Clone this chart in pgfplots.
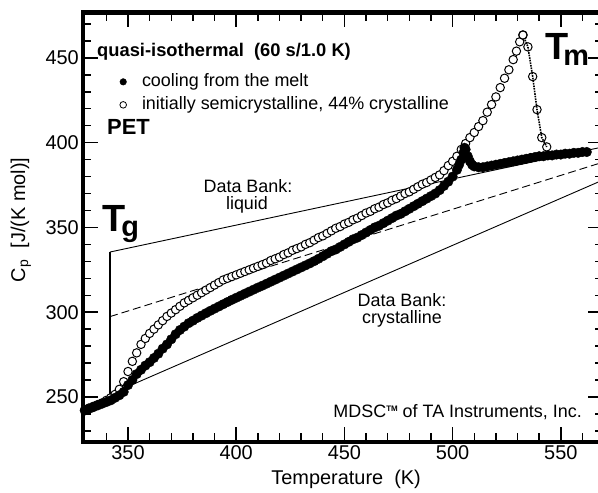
\documentclass[border=0pt]{standalone}
\usepackage{fontspec}
\setmainfont{Liberation Sans}
\usepackage{pgfplots}
\pgfplotsset{compat=1.18}

\pgfplotstableread{
T v
330 242
332 243
334 244
336 245
338 246
340 247
342 248
344 249.5
346 251
348 253
350 257
352 260
354 263.5
356 266
358 268.5
360 270.5
362 273
364 275.5
366 278.5
368 281
370 284
372 287
374 289.5
376 291.5
378 293.5
380 295
382 296.6
384 298
386 299.4
388 300.8
390 302.1
392 303.4
394 304.7
396 306
398 307.3
400 308.5
402 309.7
404 310.9
406 312.1
408 313.3
410 314.5
412 315.6
414 316.8
416 318
418 319.2
420 320.4
422 321.6
424 322.8
426 324
428 325.2
430 326.4
432 327.6
434 328.8
436 330.1
438 331.5
440 333
442 334.5
444 336
446 337
448 338.5
450 340
452 341.5
454 343
456 344
458 345.5
460 347
462 348.5
464 350
466 351
468 352.5
470 354
472 355.5
474 357
476 358
478 359.5
480 361
482 362.5
484 364
486 365.5
488 367
490 368.5
492 370
494 372
496 374.5
498 377
500 380
502 384
503 387
504 390
505 394
505.5 397
506 396
507 392
508 389
509 387
510 386
512 385.5
514 385.5
516 386
518 386.5
520 387
522 387.5
524 388
526 388.5
528 389
530 389.5
532 390
534 390.5
536 391
538 391.5
540 392
542 392
544 392.5
546 392.5
548 393
550 393
552 393.5
554 393.5
556 394
558 394
560 394.5
562 394.5
}\cooling

\pgfplotstableread{
T v
330 242.5
332 243.5
334 244.5
336 245.5
338 246.5
340 248
342 249.5
344 251.5
346 254.5
348 259
350 265
352 271
354 276
356 281
358 284.5
360 287.5
362 290
364 292.5
366 295
368 297.5
370 299.5
372 301.5
374 303.5
376 305.5
378 307
380 308.5
382 310
384 311.5
386 313
388 314.5
390 316
392 317.5
394 319
396 320
398 321
400 322
402 323
404 324
406 325
408 326
410 327
412 328
414 329
416 330.5
418 331.5
420 332.5
422 334
424 335
426 336.5
428 337.5
430 338.5
432 340
434 341
436 342.5
438 344
440 345
442 346.5
444 348
446 349.5
448 350.5
450 352
452 353
454 354.5
456 355.5
458 357
460 358.5
462 359.5
464 361
466 362
468 363.5
470 364.5
472 366
474 367
476 368.5
478 370
480 371
482 372.5
484 374
486 375.5
488 376.5
490 378
492 379.5
494 381
496 383.5
498 386.5
500 389
502 392
504 396
506 399.5
508 403
510 406
512 409.5
514 413
516 418
518 422.5
520 427
522 432.5
524 438
526 443
528 449
529.5 454
531 459.5
532.5 463.5
}\semicryst

\pgfplotstableread{
T v
532.5 463.5
534.8 456.5
537 439
539 419.5
541.2 403
543.5 397.5
}\melting

\begin{document}
\begin{tikzpicture}[x=1bp,y=1bp]
\path[use as bounding box] (-83,-51.3) rectangle (515,441.7);
\begin{axis}[
  at={(0,0)}, anchor=south west, scale only axis,
  width=520bp, height=429.2bp,
  xmin=329.2, xmax=569.5, ymin=223.6, ymax=476.8,
  clip=false,
  axis line style={line width=4.3bp, line cap=rect},
  tick align=inside,
  xtick={350,400,450,500,550},
  minor xtick={330,340,...,560},
  ytick={250,300,...,450},
  minor ytick={230,240,...,470},
  major tick length=15bp, minor tick length=8.5bp,
  major tick style={line width=1.6bp, black},
  minor tick style={line width=1.4bp, black},
  /pgf/number format/assume math mode=true,
  ticklabel style={font=\fontsize{20}{20}\selectfont},
  yticklabel style={inner xsep=4bp},
  xlabel={Temperature\ \ (K)},
  ylabel={C\textsubscript{p}\ \ [J/(K mol)]},
  every axis x label/.style={at={(rel axis cs:0.506,-0.1002)}, anchor=base,
    font=\fontsize{20}{20}\selectfont},
  every axis y label/.style={at={(rel axis cs:-0.1115,0.517)}, anchor=base, rotate=90,
    font=\fontsize{20}{20}\selectfont},
  legend cell align=left,
  legend image code/.code={\draw[#1] plot coordinates {(0bp,0bp)};},
  legend style={at={(rel axis cs:0.0706,0.861)}, anchor=north west, draw=none, fill=none,
    font=\fontsize{18}{18}\selectfont, inner sep=0pt, row sep=4bp, column sep=14.5bp,
    nodes={inner sep=1bp, text height=13bp, text depth=4bp}},
]
\addlegendimage{only marks, mark=*, mark size=3.3bp, black}
\addlegendentry{cooling from the melt}
\addlegendimage{only marks, mark=o, mark size=3.3bp, black, mark options={line width=0.8bp}}
\addlegendentry{initially semicrystalline, 44\% crystalline}

% Data Bank lines
\addplot[black, line width=1.8bp, forget plot] coordinates {(341.7,250) (341.7,335.5)};
\addplot[black, line width=0.9bp, forget plot] coordinates {(341.7,335.5) (569.5,397.5)};
\addplot[black, line width=0.9bp, dash pattern=on 8bp off 4bp, forget plot] coordinates {(341.7,297.4) (569.5,388.5)};
\addplot[black, line width=0.9bp, forget plot] coordinates {(351.5,257) (569.5,378)};

% semicrystalline (open circles)
\addplot[only marks, mark=*, mark size=4.2bp, mark options={fill=white, draw=black, line width=1bp}, forget plot] table[x=T,y=v] {\semicryst};
\addplot[black, line width=1.6bp, densely dotted, mark=o, mark size=4.2bp, mark options={solid, line width=1bp}, forget plot] table[x=T,y=v] {\melting};
% cooling (filled)
\addplot[only marks, mark=*, mark size=4.8bp, black, forget plot] table[x=T,y=v] {\cooling};
\end{axis}

% annotations (pixel-based positions)
\node[anchor=base west, inner sep=0pt] at (14,385) {\fontsize{18.4}{18.4}\selectfont\bfseries quasi-isothermal\ \ (60 s/1.0 K)};
\node[anchor=base west, inner sep=0pt] at (24,307) {\fontsize{22}{22}\selectfont\bfseries PET};
\node[anchor=base west, inner sep=0pt] at (19,210) {\fontsize{38}{38}\selectfont\bfseries T\kern-4bp\raisebox{-5bp}{\fontsize{29}{29}\selectfont g}};
\node[anchor=base west, inner sep=0pt] at (462,382) {\fontsize{38}{38}\selectfont\bfseries T\kern-5bp\raisebox{-6bp}{\fontsize{29}{29}\selectfont m}};
\node[anchor=base, inner sep=0pt] at (165,249) {\fontsize{18}{18}\selectfont Data Bank:};
\node[anchor=base, inner sep=0pt] at (164,232) {\fontsize{18}{18}\selectfont liquid};
\node[anchor=base, inner sep=0pt] at (319,135.5) {\fontsize{18}{18}\selectfont Data Bank:};
\node[anchor=base, inner sep=0pt] at (319,118.5) {\fontsize{18}{18}\selectfont crystalline};
\node[anchor=base east, inner sep=0pt] at (499,24) {\fontsize{18}{18}\selectfont MDSC\raisebox{6.5bp}{\fontsize{8}{8}\selectfont\bfseries TM} of TA Instruments, Inc.};
\end{tikzpicture}
\end{document}
